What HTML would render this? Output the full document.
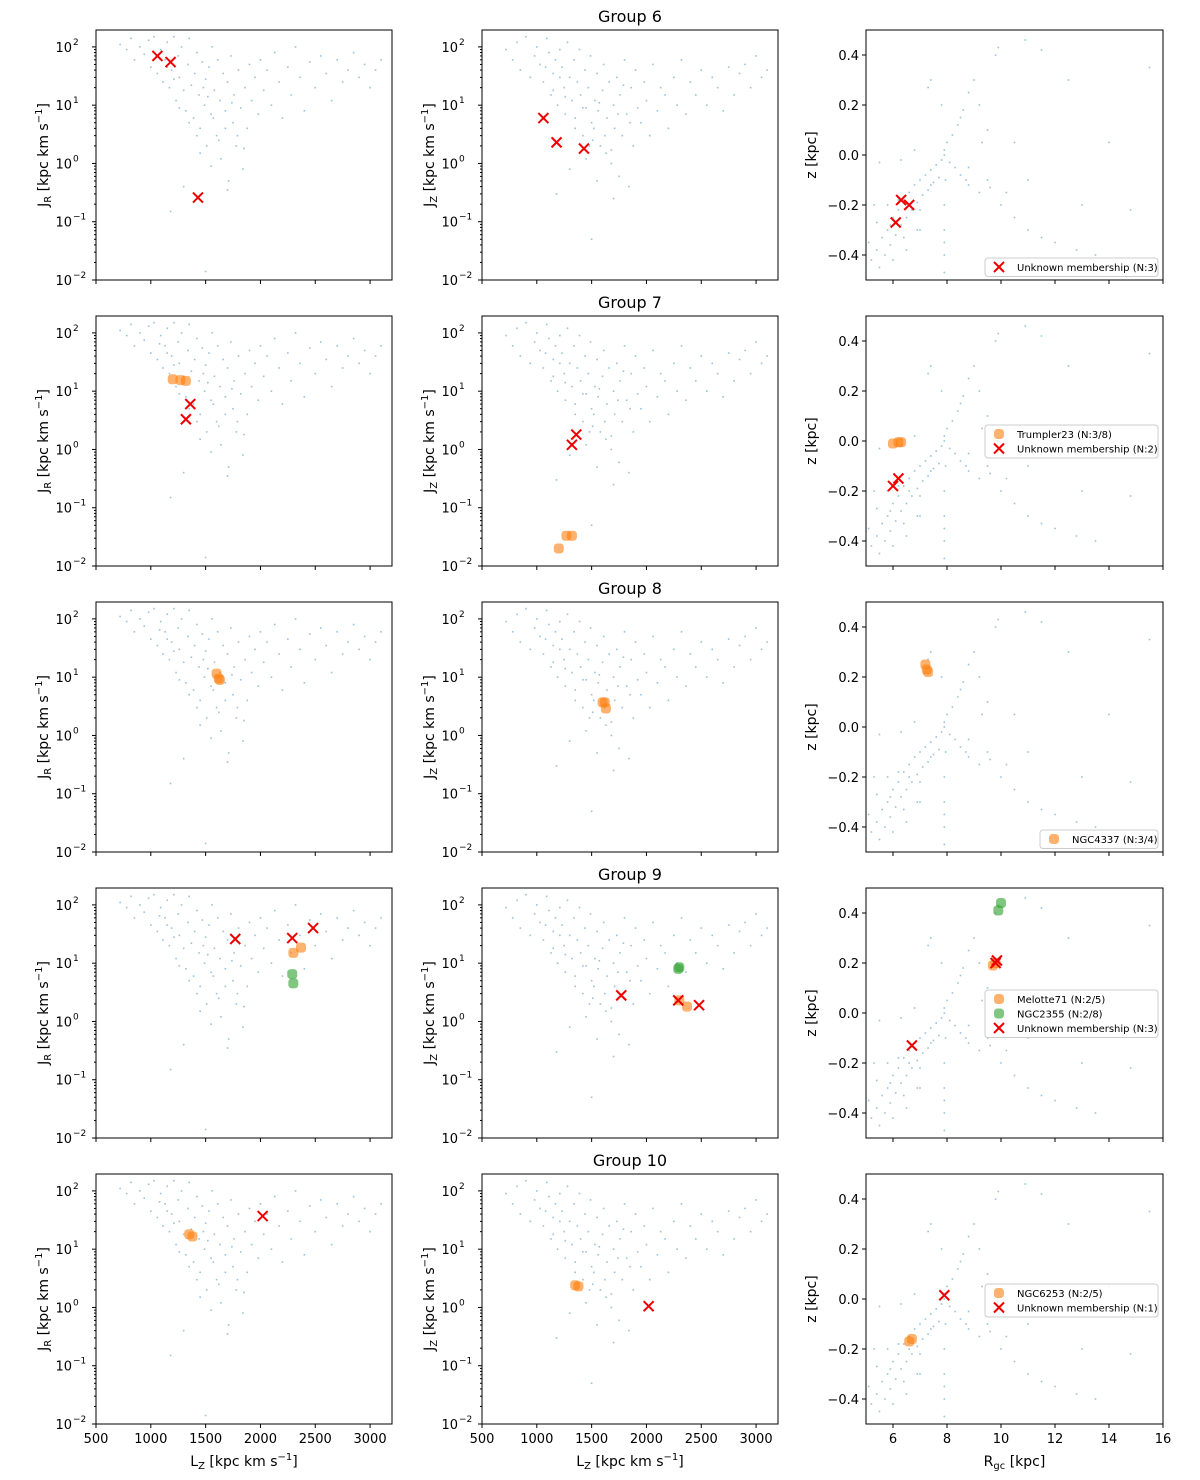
<!DOCTYPE html>
<html><head><meta charset="utf-8">
<style>
html,body{margin:0;padding:0;background:#fff;}
svg{display:block;font-family:"DejaVu Sans","Liberation Sans",sans-serif;}
</style></head>
<body>
<svg id="fig" width="1200" height="1480" viewBox="0 0 1200 1480" xmlns="http://www.w3.org/2000/svg"></svg>
<script>
// ---- data ----
const groupNames = ["Group 6","Group 7","Group 8","Group 9","Group 10"];
const bgLz = [720,780,820,850,900,940,980,1000,1030,1060,1090,1110,1130,1150,1170,1190,1210,1230,1250,1260,1280,1300,1320,1340,1350,1370,1390,1400,1420,1440,1450,1470,1490,1500,1510,1530,1550,1560,1580,1600,1610,1630,1640,1660,1680,1700,1710,1730,1750,1760,1780,1800,1820,1840,1860,1880,1900,1920,1950,1980,2000,2030,2060,2100,2130,2170,2200,2250,2280,2320,2360,2400,2450,2500,2550,2600,2650,2700,2750,2800,2850,2900,2950,3000,3050,3100,1180,1700,1550,1450,1300,1500,1260,1350,1420,1480,1520,1570,1620,1680,1740,1790,1850,1210,1150,1080];
const bgJR = [110,90,140,60,100,75,130,45,150,35,90,25,60,120,20,40,150,12,70,30,100,18,8,50,140,22,6,35,80,15,4,55,10,28,2,45,7,100,18,3,60,12,1.2,35,8,25,0.5,70,5,15,2,40,9,0.8,20,4,50,12,30,7,60,18,40,10,80,25,6,45,15,100,30,8,55,20,70,35,12,60,25,40,80,30,50,20,40,60,0.15,0.35,0.9,1.5,0.4,0.014,9,5,3,20,14,6,2.5,4,11,3,1.8,28,45,65];
const bgJz = [90,60,120,40,150,30,70,100,50,25,140,80,15,35,60,10,90,45,20,7,120,30,12,60,4,25,90,15,3,40,9,20,70,5,2.5,12,35,8,2,18,50,1.5,6,25,1,10,4,30,0.6,15,3,60,7,0.4,20,2,40,9,5,25,12,3,50,8,20,15,4,30,10,60,7,25,15,40,10,30,20,8,45,15,35,50,20,70,30,40,0.3,0.25,0.5,1.2,0.8,0.05,14,6,9,2,4,11,3,1.7,7,22,5,30,18,45];
const bgR = [5.2,5.4,5.5,5.6,5.7,5.8,5.9,6.0,6.1,6.2,6.3,6.4,6.5,6.6,6.7,6.8,6.9,7.0,7.1,7.2,7.3,7.4,7.5,7.6,7.7,7.8,7.9,8.0,8.1,8.2,8.4,8.6,8.8,9.0,9.8,9.9,10.9,7.9,7.9,7.9,7.95,7.9,8.5,8.8,9.2,9.5,10,10.5,11,11.5,12,12.8,13.5,14.8,14,12.5,11.5,9.5,9.3,8.8,6.8,6.3,5.5,5.3,5.1,6.0,6.5,7.0,7.3,7.4,7.8,8.5,9.2,10.5,11,13,15.5,5.8,6.2,6.6,7.0,7.4,6.9,6.4,5.9,5.4,7.9,7.9,8.3,8.7,9.6,10.2];
const bgZ = [-0.42,-0.38,-0.45,-0.33,-0.4,-0.3,-0.36,-0.25,-0.32,-0.22,-0.28,-0.18,-0.25,-0.15,-0.22,-0.12,-0.19,-0.1,-0.16,-0.08,-0.14,-0.06,-0.11,-0.04,-0.09,-0.02,0.02,0.05,-0.03,0.08,0.12,0.18,0.25,0.3,0.4,0.43,0.46,-0.3,-0.4,-0.2,-0.1,-0.47,-0.08,-0.12,-0.15,-0.1,-0.2,-0.25,-0.3,-0.33,-0.35,-0.38,-0.4,-0.22,0.05,0.3,0.42,0.1,0.05,-0.05,0.02,-0.02,-0.03,-0.2,-0.35,-0.42,-0.38,-0.3,0.27,0.3,0.2,0.15,0.2,0.05,-0.1,-0.2,0.35,-0.2,-0.18,-0.2,-0.22,-0.12,-0.3,-0.33,-0.28,-0.27,-0.35,0.0,-0.05,-0.1,-0.13,-0.15];

// highlighted members per group: [kind, legend label, Lz[], JR[], Jz[], R[], z[]]
const groups = [
 [["x","Unknown membership (N:3)",[1060,1180,1430],[70,55,0.26],[6,2.3,1.8],[6.1,6.3,6.6],[-0.27,-0.18,-0.2]]],
 [["o","Trumpler23 (N:3/8)",[1200,1270,1320],[16,15.5,15],[0.02,0.033,0.033],[6.0,6.2,6.3],[-0.01,-0.005,-0.005]],
  ["x","Unknown membership (N:2)",[1360,1320],[6,3.3],[1.8,1.2],[6.0,6.2],[-0.18,-0.15]]],
 [["o","NGC4337 (N:3/4)",[1600,1620,1630],[11.5,9.5,9],[3.7,3.7,2.9],[7.2,7.25,7.3],[0.25,0.23,0.22]]],
 [["o","Melotte71 (N:2/5)",[2300,2370],[15,18.5],[2.3,1.8],[9.7,9.8],[0.19,0.2]],
  ["g","NGC2355 (N:2/8)",[2290,2300],[6.5,4.5],[8,8.5],[9.9,10.0],[0.41,0.44]],
  ["x","Unknown membership (N:3)",[1770,2290,2480],[26,27,40],[2.8,2.3,1.9],[6.7,9.8,9.85],[-0.13,0.2,0.21]]],
 [["o","NGC6253 (N:2/5)",[1350,1380],[18,16.5],[2.4,2.3],[6.6,6.7],[-0.17,-0.16]],
  ["x","Unknown membership (N:1)",[2020],[37],[1.05],[7.9],[0.015]]]
];
const legendPos = [[985,258],[985,425],[1040,830],[985,990],[985,1284]];
const lzTicks = [500,1000,1500,2000,2500,3000];
const rTicks = [6,8,10,12,14,16];
const zTicks = [-0.4,-0.2,0.0,0.2,0.4];
const logTicks = [-2,-1,0,1,2];

// ---- drawing ----
const NS="http://www.w3.org/2000/svg";
const svg=document.getElementById('fig');
function el(tag,attrs,parent){const e=document.createElementNS(NS,tag);for(const k in attrs)e.setAttribute(k,attrs[k]);(parent||svg).appendChild(e);return e;}
const colX=[96,482,866], W=[296,296,297], rowY=[30,316,602,888,1174], H=250;
const LMIN=-2, LMAX=2.29;
function xLz(v,c){return colX[c]+(v-500)/(3200-500)*W[c];}
function xR(v){return colX[2]+(v-5)/(16-5)*W[2];}
function yLog(v,r){return rowY[r]+H-(Math.log10(v)-LMIN)/(LMAX-LMIN)*H;}
function yZ(v,r){return rowY[r]+H-(v+0.5)/1.0*H;}
const colors={o:"#ff7f0e",g:"#2ca02c",x:"#ee0000"};

function marker(kind,x,y,g){
  if(kind==="x"){
    const m=el('path',{d:`M${x-5},${y-5}L${x+5},${y+5}M${x-5},${y+5}L${x+5},${y-5}`,stroke:colors.x,'stroke-width':2},g);
    
    
  } else {
    const m=el('rect',{x:x-5,y:y-5,width:10,height:10,rx:3.5,fill:colors[kind],'fill-opacity':0.6},g);
    
    
  }
}

for(let r=0;r<5;r++){
  const t=el('text',{x:630,y:rowY[r]-8,'text-anchor':'middle','font-size':16},svg);
  t.textContent=groupNames[r];
  
  
  for(let c=0;c<3;c++){
    const g=el('g',{},svg);
    
    
    const x0=colX[c], y0=rowY[r], w=W[c];
    // background dots
    const bg=el('g',{fill:"#1f77b4",'fill-opacity':0.45},g);
    
    
    for(let i=0;i<bgLz.length && c<2;i++){
      const v=c===0?bgJR[i]:bgJz[i];
      el('rect',{x:xLz(bgLz[i],c)-0.8,y:yLog(v,r)-0.8,width:1.6,height:1.6},bg);
    }
    if(c===2) for(let i=0;i<bgR.length;i++){
      el('rect',{x:xR(bgR[i])-0.8,y:yZ(bgZ[i],r)-0.8,width:1.6,height:1.6},bg);
    }
    // members
    for(const s of groups[r]){
      const [kind,label,lz,jr,jz,R,z]=s;
      for(let i=0;i<lz.length;i++){
        if(c===0) marker(kind,xLz(lz[i],c),yLog(jr[i],r),g);
        else if(c===1) marker(kind,xLz(lz[i],c),yLog(jz[i],r),g);
        else marker(kind,xR(R[i]),yZ(z[i],r),g);
      }
    }
    // frame
    const fr=el('rect',{x:x0,y:y0,width:w,height:H,fill:'none',stroke:'#000','stroke-width':1},g);
    
    
    // x ticks
    const xt=c<2?lzTicks:rTicks;
    for(const v of xt){
      const xx=c<2?xLz(v,c):xR(v);
      el('line',{x1:xx,x2:xx,y1:y0+H,y2:y0+H+4,stroke:'#000'},g);
      if(r===4){
        const tl=el('text',{x:xx,y:y0+H+19,'text-anchor':'middle','font-size':13},g);
        tl.textContent=v;
        
        
      }
    }
    // y ticks
    if(c<2){
      for(const e of logTicks){
        const yy=yLog(Math.pow(10,e),r);
        el('line',{x1:x0-4,x2:x0,y1:yy,y2:yy,stroke:'#000'},g);
        const tl=el('text',{x:x0-24,y:yy+5,'text-anchor':'end','font-size':13},g);
        tl.textContent='10';
        
        
        const sp=el('text',{x:x0-23,y:yy-2,'text-anchor':'start','font-size':9},g);
        sp.textContent=e<0?'\u2212'+(-e):String(e);
        for(let m=2;m<10;m++){
          const lv=e+Math.log10(m);
          if(lv>LMAX) break;
          if(e===2&&m>1&&lv>LMAX)break;
          const ym=yLog(Math.pow(10,lv),r);
          if(e<2||lv<=LMAX) el('line',{x1:x0-2,x2:x0,y1:ym,y2:ym,stroke:'#000'},g);
        }
      }
      const lab=el('text',{transform:`translate(${x0-48},${y0+H/2}) rotate(-90)`,'text-anchor':'middle','font-size':14},g);
      lab.innerHTML=(c===0?'J<tspan font-size="10" dy="3">R</tspan><tspan dy="-3"> [kpc km s</tspan>':'J<tspan font-size="10" dy="3">Z</tspan><tspan dy="-3"> [kpc km s</tspan>')+'<tspan font-size="10" dy="-6">\u22121</tspan><tspan dy="6">]</tspan>';
      
      
    } else {
      for(const v of zTicks){
        const yy=yZ(v,r);
        el('line',{x1:x0-4,x2:x0,y1:yy,y2:yy,stroke:'#000'},g);
        const tl=el('text',{x:x0-7,y:yy+5,'text-anchor':'end','font-size':13},g);
        tl.textContent=(v<0?'\u2212':'')+Math.abs(v).toFixed(1);
        
        
      }
      const lab=el('text',{transform:`translate(${x0-50},${y0+H/2}) rotate(-90)`,'text-anchor':'middle','font-size':14},g);
      lab.textContent='z [kpc]';
      
      
      // legend
      const [lx,ly]=legendPos[r];
      const n=groups[r].length;
      const lw=r===2?118:173;
      const lg=el('g',{},g);
      
      
      el('rect',{x:lx+(r===2?0:0),y:ly,width:lw,height:n*14.5+4,rx:3,fill:'#fff','fill-opacity':0.85,stroke:'#ccc'},lg);
      groups[r].forEach((s,i)=>{
        const cy=ly+9+i*14.5;
        marker(s[0],lx+14,cy,lg);
        const tt=el('text',{x:lx+32,y:cy+4,'font-size':10},lg);
        tt.textContent=s[1];
        
        
      });
    }
  }
}
// bottom x titles
[0,1].forEach(c=>{
  const t=el('text',{x:colX[c]+W[c]/2,y:1466,'text-anchor':'middle','font-size':14},svg);
  t.innerHTML='L<tspan font-size="10" dy="3">Z</tspan><tspan dy="-3"> [kpc km s</tspan><tspan font-size="10" dy="-6">\u22121</tspan><tspan dy="6">]</tspan>';
  
  
});
const tr=el('text',{x:colX[2]+W[2]/2,y:1466,'text-anchor':'middle','font-size':14},svg);
tr.innerHTML='R<tspan font-size="10" dy="3">gc</tspan><tspan dy="-3"> [kpc]</tspan>';


</script>
</body></html>
